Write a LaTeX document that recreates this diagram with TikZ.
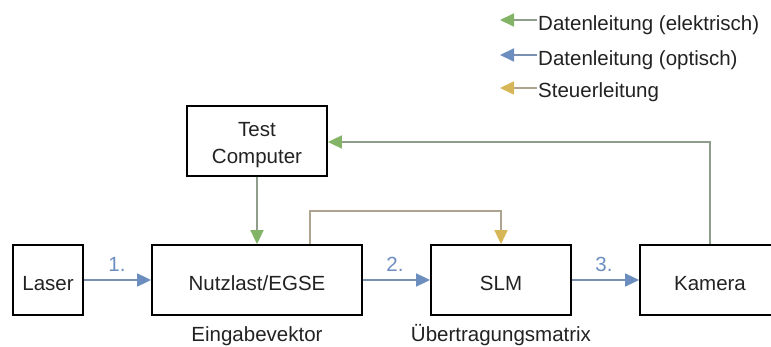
\documentclass[tikz,border=0pt]{standalone}
\usepackage{fontspec}
\setmainfont{Liberation Sans}
\usetikzlibrary{arrows.meta}
\definecolor{elline}{HTML}{8E9E8A}
\definecolor{elhead}{HTML}{82B366}
\definecolor{opline}{HTML}{7A90B0}
\definecolor{ophead}{HTML}{6C8EBF}
\definecolor{stline}{HTML}{ADA58F}
\definecolor{sthead}{HTML}{D6B656}
\definecolor{txt}{HTML}{222222}
\tikzset{
  blk/.style={draw=black, line width=1.8pt, rectangle, minimum height=70pt, inner sep=0pt, align=center, text=txt, text height=20.7pt, text depth=0pt},
  lbl/.style={text=txt, inner sep=0pt, text height=14.7pt, text depth=0pt},
  num/.style={text=ophead, inner sep=0pt, text height=14.7pt, text depth=0pt},
  elarr/.style={draw=elline, line width=1.8pt, -{Triangle[length=14pt,width=13pt,fill=elhead,color=elhead]}},
  oparr/.style={draw=opline, line width=1.8pt, -{Triangle[length=14pt,width=13pt,fill=ophead,color=ophead]}},
  starr/.style={draw=stline, line width=1.8pt, -{Triangle[length=14pt,width=13pt,fill=sthead,color=sthead]}},
}
\begin{document}
\begin{tikzpicture}[x=1pt,y=-1pt,font=\fontsize{20.5}{27}\selectfont]
\useasboundingbox (0,0) rectangle (771,347);
\begin{scope}
\clip (0,0) rectangle (771,347);
\node[blk, minimum width=70pt] (laser) at (48,280) {Laser};
\node[blk, minimum width=210pt] (nutz) at (257,280) {Nutzlast/EGSE};
\node[blk, minimum width=140pt, text height=45.7pt] (tc) at (257,141) {Test\\Computer};
\node[blk, minimum width=140pt] (slm) at (501,280) {SLM};
\node[blk, minimum width=140pt] (kam) at (710,280) {Kamera};
\end{scope}

\node[lbl] (ein) at (257,334.5) {Eingabevektor};
\node[lbl] (ueb) at (501,334.5) {Übertragungsmatrix};

\node[num] (n1) at (117,264) {1.};
\node[num] (n2) at (395,264) {2.};
\node[num] (n3) at (604,264) {3.};

\draw[oparr] (laser) -- (nutz);
\draw[oparr] (nutz) -- (slm);
\draw[oparr] (slm) -- (kam);

\draw[elarr] (tc) -- (nutz.north -| tc);
\coordinate (kt) at (710,142);
\draw[elarr] (kam.north) -- (kt) -- (tc.east |- kt);
\coordinate (s1) at (310,211);
\coordinate (s2) at (501,211);
\draw[starr] (nutz.north -| s1) -- (s1) -- (s2) -- (slm.north);

% legend
\coordinate (la1) at (537,20);
\coordinate (lb1) at (500,20);
\coordinate (la2) at (537,55);
\coordinate (lb2) at (500,55);
\coordinate (la3) at (537,88);
\coordinate (lb3) at (500,88);
\draw[elarr] (la1) -- (lb1);
\draw[oparr] (la2) -- (lb2);
\draw[starr] (la3) -- (lb3);
\node[lbl, anchor=west] (leg1) at (538,22.7) {Datenleitung (elektrisch)};
\node[lbl, anchor=west] (leg2) at (538,57.7) {Datenleitung (optisch)};
\node[lbl, anchor=west] (leg3) at (538,90.5) {Steuerleitung};
\end{tikzpicture}
\end{document}
